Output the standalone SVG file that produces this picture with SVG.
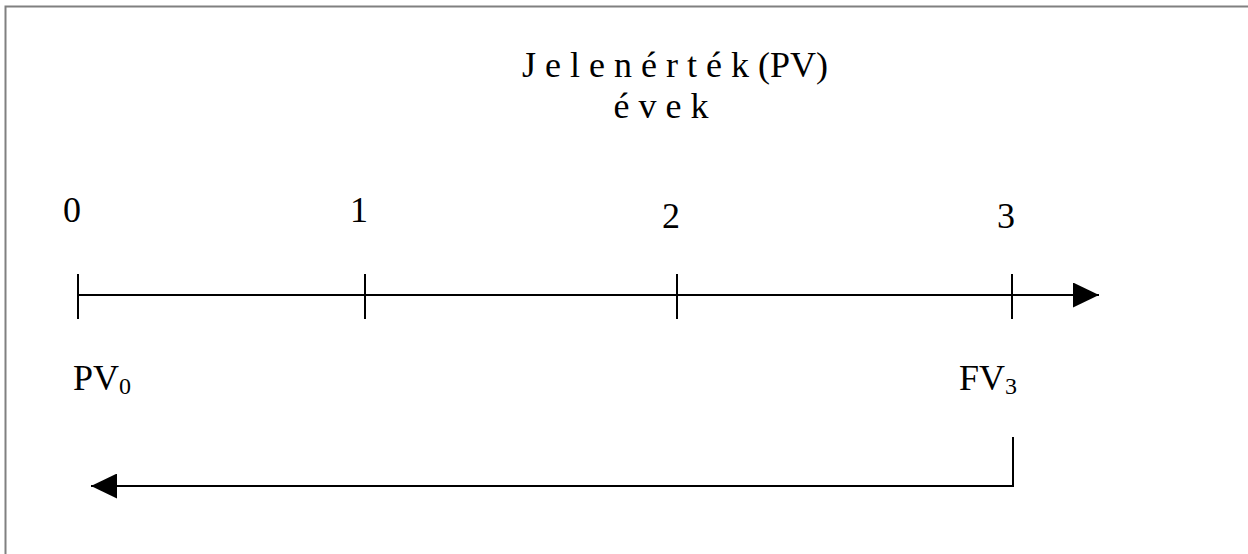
<svg xmlns="http://www.w3.org/2000/svg" width="1248" height="554" viewBox="0 0 1248 554">
<style>
  text { font-family: "Liberation Serif", "Times New Roman", serif; fill: #000; }
  .lbl { font-size: 36px; }
  .sub { font-size: 24px; }
  .ln { stroke: #000; stroke-width: 2; fill: none; }
</style>
<defs>
  <marker id="ah" markerWidth="26" markerHeight="25" refX="26" refY="12.5" orient="auto" markerUnits="userSpaceOnUse">
    <path d="M0,0 L26,12.5 L0,25 Z" fill="#000"/>
  </marker>
</defs>
<rect x="0" y="0" width="1248" height="554" fill="#fff"/>
<path d="M5.5,554 L5.5,6.5 L1248,6.5" stroke="#808080" stroke-width="2" fill="none"/>

<g id="title">
  <text class="lbl" x="675" y="77" text-anchor="middle">J e l e n é r t é k (PV)</text>
  <text class="lbl" x="661" y="118" text-anchor="middle">é v e k</text>
</g>

<g id="labels">
  <text class="lbl" x="72" y="222" text-anchor="middle">0</text>
  <text class="lbl" x="359" y="222" text-anchor="middle">1</text>
  <text class="lbl" x="671" y="228" text-anchor="middle">2</text>
  <text class="lbl" x="1006" y="228" text-anchor="middle">3</text>
</g>

<g id="pv0">
  <text class="lbl" x="73" y="390">PV<tspan class="sub" dy="4">0</tspan></text>
</g>
<g id="fv3">
  <text class="lbl" x="959" y="390">FV<tspan class="sub" dy="4">3</tspan></text>
</g>

<g id="connectors">
  <line class="ln" x1="78" y1="295" x2="1099" y2="295" marker-end="url(#ah)"/>
  <line class="ln" x1="78" y1="274" x2="78" y2="319"/>
  <line class="ln" x1="365" y1="274" x2="365" y2="319"/>
  <line class="ln" x1="677" y1="274" x2="677" y2="319"/>
  <line class="ln" x1="1012" y1="274" x2="1012" y2="319"/>
  <path class="ln" d="M1013,437 L1013,486 L91,486" marker-end="url(#ah)"/>
</g>
</svg>
